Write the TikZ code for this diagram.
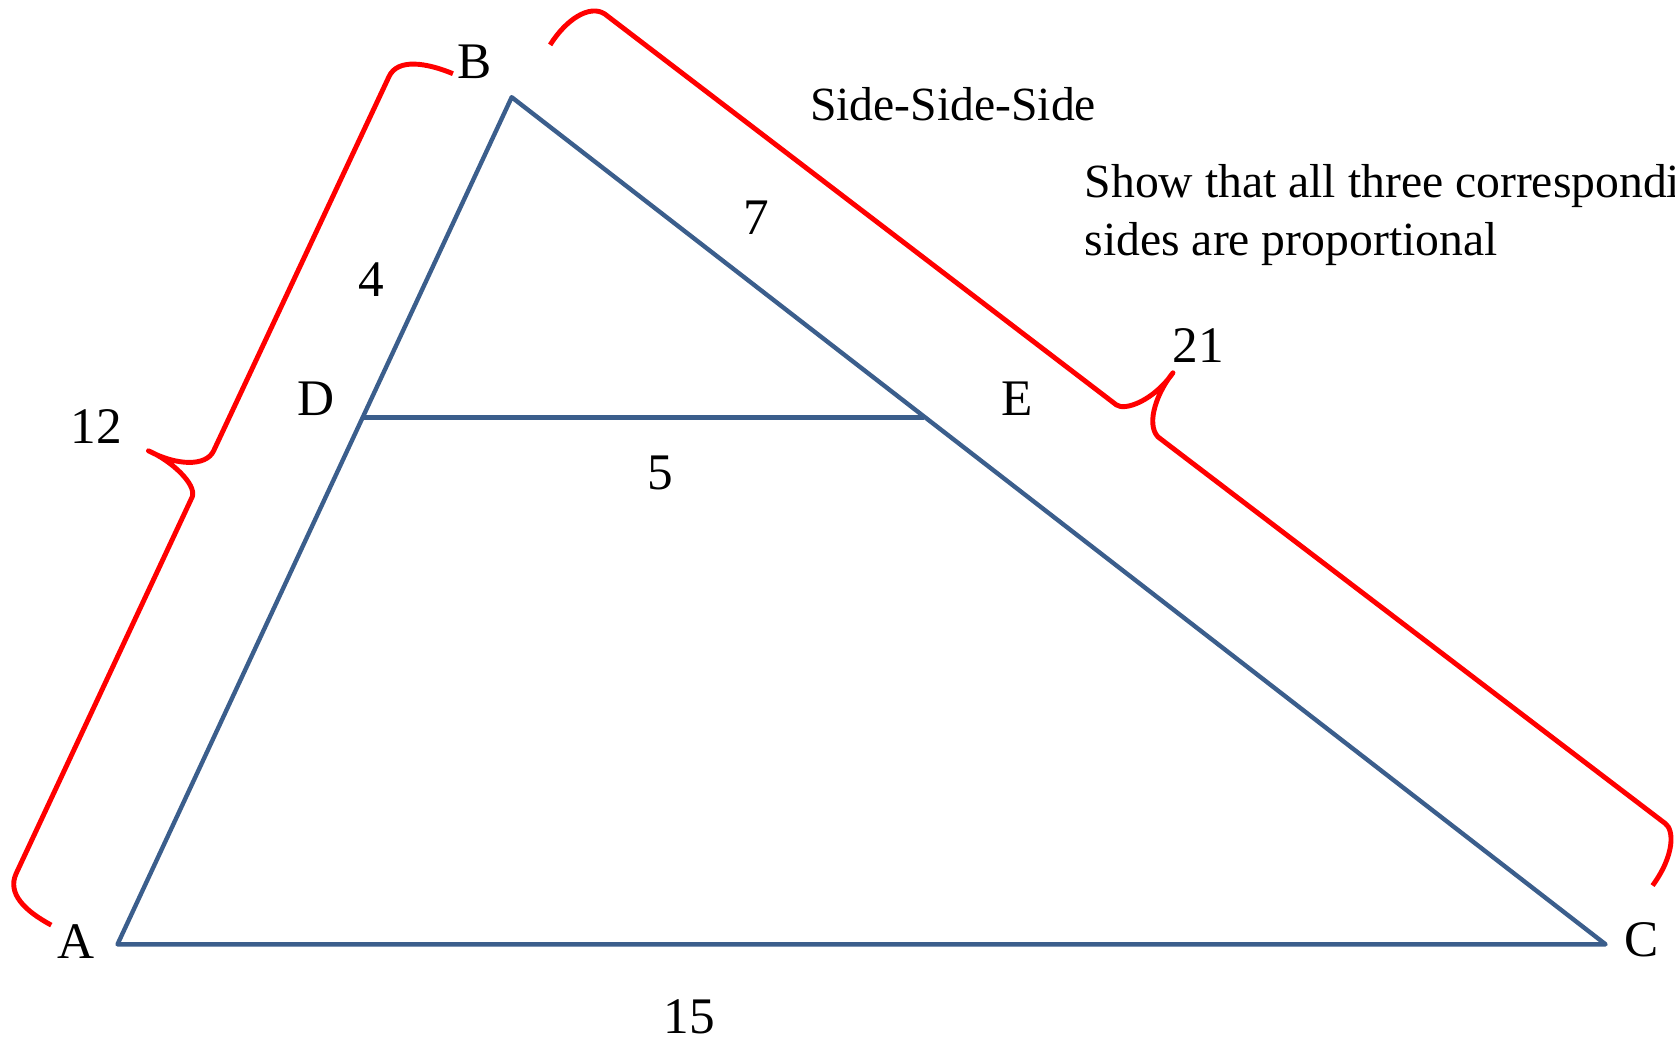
\documentclass[tikz,border=0pt]{standalone}
\usepackage{fontspec}
\setmainfont{Liberation Serif}
\definecolor{triblue}{HTML}{3B5E8C}
\begin{document}
\begin{tikzpicture}[x=0.5pt,y=-0.5pt,
  tri/.style={draw=triblue, line width=2.05pt, line join=round},
  brace/.style={draw=red, line width=2.3pt, line join=round},
  lbl/.style={inner sep=0pt, font=\fontsize{24}{28}\selectfont},
  txt/.style={inner sep=0pt, font=\fontsize{22.3}{27}\selectfont}]
\useasboundingbox (0,0) rectangle (1568,973);
% vertices
\coordinate (A) at (110,884);
\coordinate (B) at (479,91);
\coordinate (C) at (1503,884);
\coordinate (D) at (340,391);
\coordinate (E) at (865,391);
\draw[tri] (A) -- (B) -- (C) -- cycle;
\draw[tri] (D) -- (E);
% braces
\draw[brace] (424,69) .. controls (400,59) and (372,54) .. (364,72)
  -- (200,422) .. controls (193,437) and (165,436) .. (139,422)
  .. controls (160,431) and (184,453) .. (180,465)
  -- (15,818) .. controls (7,836) and (22,852) .. (48,866);
\draw[brace] (515,42) .. controls (530,18) and (552,4) .. (566,13)
  -- (1045,379) .. controls (1053,385) and (1080,375) .. (1098,349)
  .. controls (1084,366) and (1072,396) .. (1084,409)
  -- (1559,771) .. controls (1567,777) and (1568,800) .. (1547,829);
% labels
\node[lbl] (lA) at (71,881) {A};
\node[lbl] (lB) at (444,58) {B};
\node[lbl] (lC) at (1537,880) {C};
\node[lbl] (lD) at (296,373) {D};
\node[lbl] (lE) at (952,373) {E};
\node[lbl] (l4) at (348,262) {4};
\node[lbl] (l7) at (708,204) {7};
\node[lbl] (l5) at (618,443) {5};
\node[lbl] (l12) at (90,399) {12};
\node[lbl] (l21) at (1122,323) {21};
\node[lbl] (l15) at (645,952) {15};
% texts
\node[txt, anchor=base west] (t1) at (758,113) {Side-Side-Side};
\node[txt, anchor=north west, align=left] (t2) at (1015,154) {Show that all three corresponding\\sides are proportional};
\end{tikzpicture}
\end{document}
